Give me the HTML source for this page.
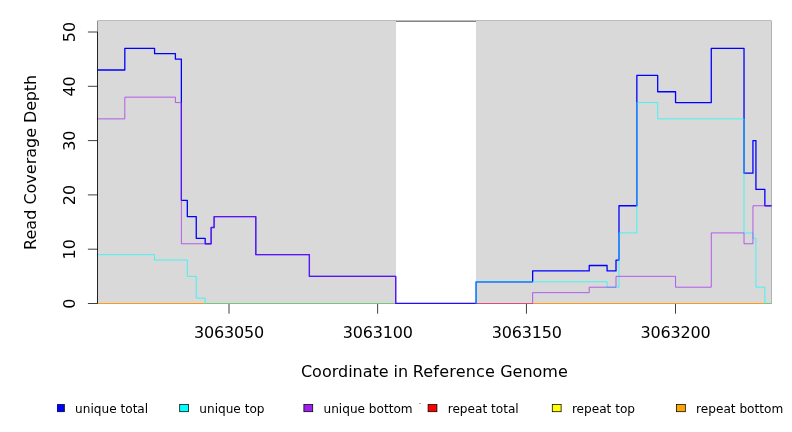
<!DOCTYPE html>
<html lang="en"><head><meta charset="utf-8"><title>Read Coverage Depth</title>
<style>html,body{margin:0;padding:0;background:#fff}body{width:792px;height:432px;overflow:hidden}svg{display:block;will-change:transform}</style>
</head><body>
<svg width="792" height="432" viewBox="0 0 792 432">
<rect width="792" height="432" fill="#fff"/>
<path d="M97.50 303.50V21.15H771.50V303.50" fill="none" stroke="#000" stroke-width="0.75"/>
<rect x="97.50" y="21.00" width="298.50" height="282.50" fill="#d9d9d9"/>
<rect x="476.00" y="21.00" width="295.75" height="282.50" fill="#d9d9d9"/>
<g clip-path="url(#cp)">
<g fill="none" stroke-linejoin="round" stroke-linecap="round">
<path d="M97.50 303.50H205.18" stroke="#ff9a12" stroke-width="1.1" stroke-linecap="butt"/>
<path d="M205.18 303.50H395.71" stroke="#72c87c" stroke-width="1.1" stroke-linecap="butt"/>
<path d="M476.09 303.50H532.65" stroke="#e04a78" stroke-width="1.1" stroke-linecap="butt"/>
<path d="M532.65 303.50H764.86" stroke="#ff9a12" stroke-width="1.1" stroke-linecap="butt"/>
<path d="M764.86 303.50H771.50" stroke="#72c87c" stroke-width="1.1" stroke-linecap="butt"/>
<path d="M97.50 70.01H124.81V48.29H154.57V53.72H175.41V59.15H181.37V200.33H187.32V216.62H196.25V238.34H205.18V243.77H211.14V227.48H214.12V216.62H255.79V254.63H309.38V276.35H395.71V303.50H476.09V281.78H532.65V270.92H589.22V265.49H607.08V270.92H616.01V260.06H618.99V205.76H636.85V75.44H657.69V91.73H675.55V102.59H711.27V48.29H744.02V173.18H752.95V140.60H755.93V189.47H764.86V205.76H771.50" stroke="#0000ff" stroke-width="1.3"/>
<path d="M97.50 254.63H154.57V260.06H187.32V276.35H196.25V298.07H205.18V303.50M476.09 303.50V281.78H607.08V287.21H618.99V232.91H636.85V102.59H657.69V118.88H744.02V232.91H752.95V238.34H755.93V287.21H764.86V303.50" stroke="#00ffff" stroke-width="0.68"/>
<path d="M97.50 118.88H124.81V97.16H175.41V102.59H181.37V243.77H211.14V227.48H214.12V216.62H255.79V254.63H309.38V276.35H395.71V303.50M532.65 303.50V292.64H589.22V287.21H616.01V276.35H675.55V287.21H711.27V232.91H744.02V243.77H752.95V205.76H771.50" stroke="#a020f0" stroke-width="0.68"/>
<path d="M396.31 303.50H475.49" stroke="#a020f0" stroke-width="0.68" stroke-opacity="0.4" stroke-linecap="butt"/>
</g></g>
<defs><clipPath id="cp"><rect x="97.50" y="20.50" width="674.00" height="283.50"/></clipPath></defs>
<g stroke="#000" stroke-width="0.75" fill="none">
<path d="M97.50 303.50V32.00"/>
<path d="M97.50 303.50H87.90"/>
<path d="M97.50 249.20H87.90"/>
<path d="M97.50 194.90H87.90"/>
<path d="M97.50 140.60H87.90"/>
<path d="M97.50 86.30H87.90"/>
<path d="M97.50 32.00H87.90"/>
<path d="M229.00 304.00V313.70"/>
<path d="M377.62 304.00V313.70"/>
<path d="M526.45 304.00V313.70"/>
<path d="M675.50 304.00V313.70"/>
</g>
<g font-family="'DejaVu Sans', 'Liberation Sans', sans-serif" font-size="16" fill="#000">
<text transform="translate(74.8 303.60) rotate(-90)" text-anchor="middle">0</text>
<text transform="translate(74.8 249.30) rotate(-90)" text-anchor="middle">10</text>
<text transform="translate(74.8 195.00) rotate(-90)" text-anchor="middle">20</text>
<text transform="translate(74.8 140.70) rotate(-90)" text-anchor="middle">30</text>
<text transform="translate(74.8 86.40) rotate(-90)" text-anchor="middle">40</text>
<text transform="translate(74.8 32.10) rotate(-90)" text-anchor="middle">50</text>
<text x="229.00" y="338.2" text-anchor="middle" letter-spacing="-0.18">3063050</text>
<text x="377.85" y="338.2" text-anchor="middle" letter-spacing="-0.18">3063100</text>
<text x="526.70" y="338.2" text-anchor="middle" letter-spacing="-0.18">3063150</text>
<text x="675.55" y="338.2" text-anchor="middle" letter-spacing="-0.18">3063200</text>
<text y="376.8"><tspan x="300.95">Coordinate</tspan> <tspan x="393.5">in</tspan> <tspan x="412.7" letter-spacing="0.2">Reference</tspan> <tspan x="500.15">Genome</tspan></text>
<text transform="translate(36 162) rotate(-90)"><tspan x="-87.88">Read Coverage</tspan> <tspan x="39.1" letter-spacing="-0.2">Depth</tspan></text>
</g>
<g font-family="'DejaVu Sans', 'Liberation Sans', sans-serif" font-size="12.12" fill="#000">
<defs><clipPath id="lc"><rect x="57" y="400" width="735" height="20"/></clipPath></defs>
<rect x="55.48" y="404.55" width="8.85" height="7.15" fill="#0000ff" stroke="#000" stroke-width="0.75" clip-path="url(#lc)"/>
<text x="75.10" y="413.1">unique total</text>
<rect x="179.68" y="404.55" width="8.85" height="7.15" fill="#00ffff" stroke="#000" stroke-width="0.75" clip-path="url(#lc)"/>
<text x="199.30" y="413.1">unique top</text>
<rect x="303.88" y="404.55" width="8.85" height="7.15" fill="#a020f0" stroke="#000" stroke-width="0.75" clip-path="url(#lc)"/>
<text x="323.50" y="413.1">unique bottom</text>
<rect x="428.08" y="404.55" width="8.85" height="7.15" fill="#ff0000" stroke="#000" stroke-width="0.75" clip-path="url(#lc)"/>
<text x="447.70" y="413.1">repeat total</text>
<rect x="552.28" y="404.55" width="8.85" height="7.15" fill="#ffff00" stroke="#000" stroke-width="0.75" clip-path="url(#lc)"/>
<text x="571.90" y="413.1">repeat top</text>
<rect x="676.48" y="404.55" width="8.85" height="7.15" fill="#ffa500" stroke="#000" stroke-width="0.75" clip-path="url(#lc)"/>
<text x="696.10" y="413.1">repeat bottom</text>
</g>
<rect x="418.9" y="403.05" width="2.1" height="0.8" fill="#9a9a9a"/>
</svg>
</body></html>
